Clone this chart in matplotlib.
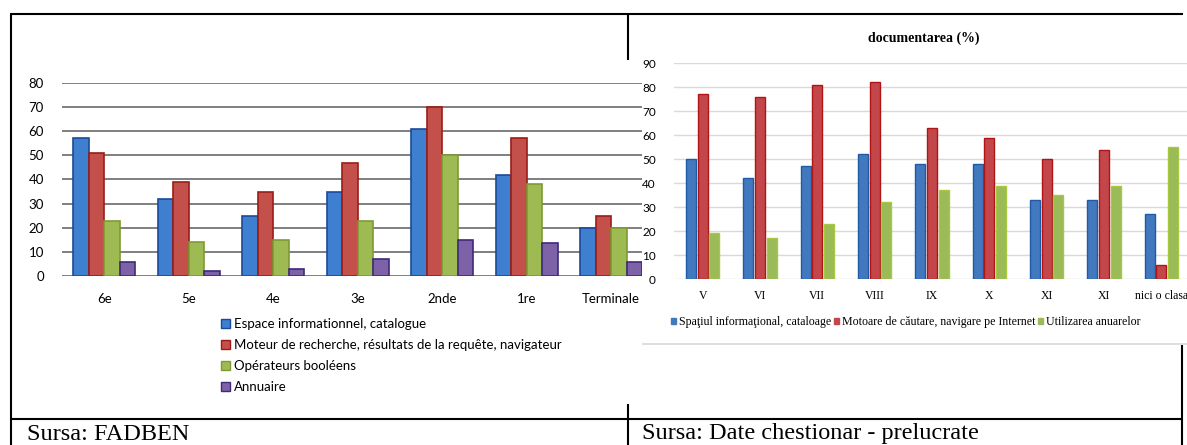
import matplotlib
matplotlib.use('Agg')
import matplotlib.pyplot as plt
import numpy as np
from matplotlib.patches import Patch
from matplotlib.lines import Line2D

# ---- data -----------------------------------------------------------------
left_categories = ['6e', '5e', '4e', '3e', '2nde', '1re', 'Terminale']
left_series = [
    'Espace informationnel, catalogue',
    'Moteur de recherche, résultats de la requête, navigateur',
    'Opérateurs booléens',
    'Annuaire',
]
espace = [57, 32, 25, 35, 61, 42, 20]
moteur = [51, 39, 35, 47, 70, 57, 25]
booleens = [23, 14, 15, 23, 50, 38, 20]
annuaire = [6, 2, 3, 7, 15, 13.5, 6]
left_ticks = [0, 10, 20, 30, 40, 50, 60, 70, 80]

right_title = 'documentarea (%)'
right_categories = ['V', 'VI', 'VII', 'VIII', 'IX', 'X', 'XI', 'XI', 'nici o clasa']
right_series = [
    'Spaţiul informaţional, cataloage',
    'Motoare de căutare, navigare pe Internet',
    'Utilizarea anuarelor',
]
spatiul = [50, 42, 47, 52, 48, 48, 33, 33, 27]
motoare = [77, 76, 81, 82, 63, 59, 50, 54, 6]
anuare = [19, 17, 23, 32, 37, 39, 35, 39, 55]
right_ticks = [0, 10, 20, 30, 40, 50, 60, 70, 80, 90]

captions = ['Sursa: FADBEN', 'Sursa: Date chestionar - prelucrate']

# ---- layout helpers (pixel coords, origin top-left) -------------------------
W, H = 1187, 445


def rect(x0, y0, x1, y1):
    return [x0 / W, 1 - y1 / H, (x1 - x0) / W, (y1 - y0) / H]


def fline(fig, xs, ys, **kw):
    fig.add_artist(Line2D([x / W for x in xs], [1 - y / H for y in ys],
                          transform=fig.transFigure, **kw))


fig = plt.figure(figsize=(W / 100, H / 100), dpi=100)
fig.patch.set_facecolor('white')

# ---- left chart -----------------------------------------------------------
sans = ['Lato', 'DejaVu Sans']
ax = fig.add_axes(rect(62, 83, 653.5, 276))
ax.set_zorder(1)
faces = ['#3E7FCF', '#C4504B', '#9DBB52', '#7E62A8']
edges = ['#1B4A98', '#9A1C16', '#7F9A33', '#3E2A7A']
x = np.arange(len(left_categories))
bw = 0.183
for i, vals in enumerate([espace, moteur, booleens, annuaire]):
    ax.bar(x + (i - 1.5) * bw, vals, bw, color=faces[i], edgecolor=edges[i],
           linewidth=1.2, zorder=3)
ax.set_xlim(-0.5, len(left_categories) - 0.5)
ax.set_ylim(0, 80)
ax.set_yticks(left_ticks)
ax.yaxis.grid(True, color='#7F7F7F', linewidth=1.4, zorder=0)
ax.set_xticks(x)
ax.set_xticklabels(left_categories, fontfamily=sans, fontsize=9.5)
ax.tick_params(axis='x', length=0, pad=12)
ax.tick_params(axis='y', length=0, pad=13, labelsize=9.5)
for lab in ax.get_yticklabels():
    lab.set_fontfamily(sans)
for s in ax.spines.values():
    s.set_visible(False)

handles = [Patch(facecolor=faces[i], edgecolor=edges[i], linewidth=1)
           for i in range(4)]
leg = fig.legend(handles, left_series, loc='upper left',
                 bbox_to_anchor=(221 / W, 1 - 318 / H), frameon=False,
                 prop={'family': sans, 'size': 9.5}, handlelength=0.7,
                 handleheight=0.7, handletextpad=0.3, labelspacing=0.68,
                 borderaxespad=0, borderpad=0)

# ---- right chart (pasted picture) -----------------------------------------
bg = fig.add_axes(rect(642, 15, 1187, 345))
bg.set_zorder(2)
bg.set_facecolor('white')
bg.set_xticks([])
bg.set_yticks([])
for s in bg.spines.values():
    s.set_visible(False)
bg.axhline(0.003, color='#D9D9D9', linewidth=1.2, xmin=0, xmax=1)

serif = ['Liberation Serif', 'DejaVu Serif']
ax2 = fig.add_axes(rect(674, 63.3, 1190, 279))
ax2.set_zorder(3)
ax2.patch.set_alpha(0)
rfaces = ['#4279BE', '#C3474A', '#9BBB59']
redges = ['#1F5AA6', '#B01515', '#A8C840']
x2 = np.arange(len(right_categories))
slot = 0.204
rbw = 0.172
for i, vals in enumerate([spatiul, motoare, anuare]):
    ax2.bar(x2 + (i - 1) * slot, vals, rbw, color=rfaces[i],
            edgecolor=redges[i], linewidth=1, zorder=3)
ax2.set_xlim(-0.5, len(right_categories) - 0.5)
ax2.set_ylim(0, 90)
ax2.set_yticks(right_ticks)
ax2.yaxis.grid(True, color='#D9D9D9', linewidth=1, zorder=0)
ax2.set_xticks(x2)
ax2.set_xticklabels(right_categories, fontfamily=serif, fontsize=8.5)
ax2.tick_params(axis='x', length=0, pad=8)
ax2.tick_params(axis='y', length=0, pad=13, labelsize=8.5)
for lab in ax2.get_yticklabels():
    lab.set_fontfamily(sans)
for s in ax2.spines.values():
    s.set_visible(False)

fig.text(924 / W, 1 - 38 / H, right_title, ha='center', va='center',
         fontfamily=serif, fontsize=10, fontweight='bold', zorder=4)

rhandles = [Patch(facecolor=rfaces[i], edgecolor=rfaces[i]) for i in range(3)]
leg2 = fig.legend(rhandles, right_series, loc='center left',
                  bbox_to_anchor=(671 / W, 1 - 322 / H), frameon=False, ncol=3,
                  prop={'family': serif, 'size': 8.6}, handlelength=0.4,
                  handleheight=0.4, handletextpad=0.25, columnspacing=0.25,
                  borderaxespad=0, borderpad=0)
leg2.set_zorder(5)

# ---- table borders --------------------------------------------------------
lk = dict(color='black', linewidth=1.5, solid_capstyle='butt', zorder=10)
fline(fig, [10, 1183], [14, 14], **lk)
fline(fig, [11, 11], [14, 445], **lk)
fline(fig, [628, 628], [14, 60], **lk)
fline(fig, [628, 628], [404, 445], **lk)
fline(fig, [10, 1183], [419, 419], **lk)
fline(fig, [1182, 1182], [345, 445], **lk)

fig.text(27 / W, 1 - 434 / H, captions[0], ha='left', va='center',
         fontfamily='Liberation Serif', fontsize=17.5)
fig.text(642 / W, 1 - 434 / H, captions[1], ha='left', va='center',
         fontfamily='Liberation Serif', fontsize=17.5)

fig.savefig('out.png', dpi=100, facecolor='white')
